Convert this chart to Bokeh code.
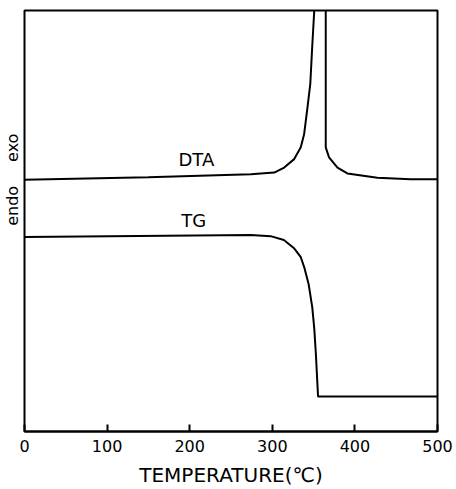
from bokeh.plotting import figure
from bokeh.models import Range1d, FixedTicker, Label
from bokeh.embed import file_html
from bokeh.resources import INLINE

# DTA curve (temperature in degC, signal) - the exothermic peak runs off the top
dta_temp = [0, 150, 274.2, 302.3, 314.4, 326.5, 334.5, 338.5, 342.6, 346.0, 348.4, 350.8, 357.0,
            364.7, 364.7, 364.7, 368.7, 378.9, 390.9, 427.2, 467.4, 500]
dta_sig = [59.8, 60.4, 61.1, 61.5, 62.7, 64.7, 67.5, 70.6, 77.0, 82.6, 91.7, 100, 140,
           100, 71.4, 67.5, 65.1, 62.7, 61.3, 60.3, 59.9, 59.9]

# TG curve (temperature in degC, weight signal)
tg_temp = [0, 274, 298, 314, 326, 334.5, 339, 344, 348.4, 350.8, 352.7, 355.4, 500]
tg_sig = [46.2, 46.7, 46.4, 45.5, 43.6, 41.4, 38.8, 35.0, 29.5, 24.5, 18.6, 8.3, 8.3]

x_ticks = [0, 100, 200, 300, 400, 500]
y_marks = [53.6, 67.4]
y_mark_labels = ["endo", "exo"]

FONT = "DejaVu Sans"

p = figure(width=456, height=489, output_backend="svg", toolbar_location=None,
           x_range=Range1d(0, 500), y_range=Range1d(0, 100),
           min_border_top=10, min_border_left=0, min_border_right=19, min_border_bottom=0)
p.grid.visible = False
p.background_fill_color = "white"
p.border_fill_color = "white"
p.outline_line_color = "black"
p.outline_line_width = 2

ya = p.yaxis[0]
ya.ticker = FixedTicker(ticks=y_marks)
ya.major_label_overrides = {v: t for v, t in zip(y_marks, y_mark_labels)}
ya.major_label_orientation = "vertical"
ya.major_tick_line_color = None
ya.minor_tick_line_color = None
ya.axis_line_color = None
ya.major_tick_in = 0
ya.major_tick_out = 0
ya.major_label_standoff = 2
ya.major_label_text_font = FONT
ya.major_label_text_font_size = "16px"
ya.major_label_text_color = "black"

xa = p.xaxis[0]
xa.ticker = FixedTicker(ticks=x_ticks)
xa.major_tick_in = 7
xa.major_tick_out = 0
xa.minor_tick_line_color = None
xa.axis_line_width = 2
xa.major_tick_line_width = 2
xa.major_label_text_font = FONT
xa.major_label_text_font_size = "16px"
xa.major_label_text_color = "black"
xa.major_label_standoff = 8
xa.axis_label = "TEMPERATURE(℃)"
xa.axis_label_text_font = FONT
xa.axis_label_text_font_style = "normal"
xa.axis_label_text_font_size = "20px"
xa.axis_label_text_color = "black"
xa.axis_label_standoff = 8

p.line(dta_temp, dta_sig, line_color="black", line_width=2)
p.line(tg_temp, tg_sig, line_color="black", line_width=2)

p.add_layout(Label(x=208, y=62.2, text="DTA", text_font=FONT, text_font_size="18px",
                   text_align="center", text_baseline="bottom", text_color="black"))
p.add_layout(Label(x=205, y=47.6, text="TG", text_font=FONT, text_font_size="18px",
                   text_align="center", text_baseline="bottom", text_color="black"))

open("out.html", "w").write(file_html(p, INLINE))
